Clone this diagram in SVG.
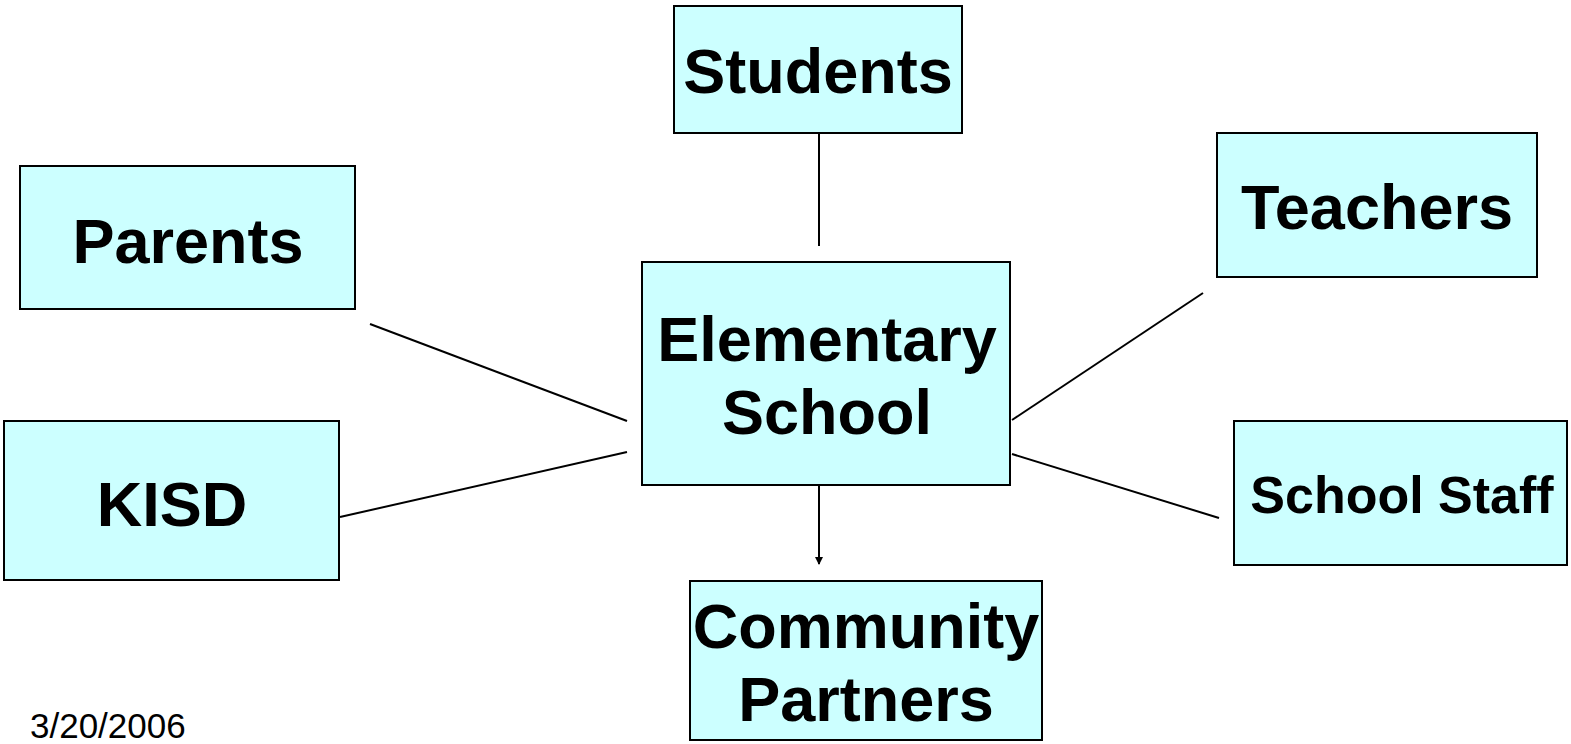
<svg xmlns="http://www.w3.org/2000/svg" width="1571" height="744" viewBox="0 0 1571 744">
<style>
.box{fill:#CCFFFF;stroke:#000;stroke-width:2}
.t{font-family:"Liberation Sans",Arial,sans-serif;font-weight:bold;fill:#000;text-anchor:middle;font-size:63px}
.c{stroke:#000;stroke-width:2;fill:none}
</style>
<defs>
<marker id="ah" markerWidth="8" markerHeight="8" refX="7" refY="4" orient="auto" markerUnits="userSpaceOnUse">
<path d="M0,0 L8,4 L0,8 Z" fill="#000"/>
</marker>
</defs>
<rect width="1571" height="744" fill="#fff"/>
<g id="connectors">
<line class="c" x1="819" y1="134" x2="819" y2="246"/>
<line class="c" x1="370" y1="324" x2="627" y2="421"/>
<line class="c" x1="340" y1="517" x2="627" y2="452"/>
<line class="c" x1="1203" y1="293" x2="1012" y2="420"/>
<line class="c" x1="1012" y1="454" x2="1219" y2="518"/>
<line class="c" x1="819" y1="486" x2="819" y2="564" marker-end="url(#ah)"/>
</g>
<g id="students">
<rect class="box" x="674" y="6" width="288" height="127"/>
<text class="t" x="818" y="93">Students</text>
</g>
<g id="parents">
<rect class="box" x="20" y="166" width="335" height="143"/>
<text class="t" x="188" y="263">Parents</text>
</g>
<g id="teachers">
<rect class="box" x="1217" y="133" width="320" height="144"/>
<text class="t" x="1377" y="229">Teachers</text>
</g>
<g id="elementary">
<rect class="box" x="642" y="262" width="368" height="223"/>
<text class="t" x="827" y="361">Elementary</text>
<text class="t" x="827" y="434">School</text>
</g>
<g id="kisd">
<rect class="box" x="4" y="421" width="335" height="159"/>
<text class="t" x="172" y="526">KISD</text>
</g>
<g id="staff">
<rect class="box" x="1234" y="421" width="333" height="144"/>
<text class="t" x="1402" y="513" style="font-size:52px">School Staff</text>
</g>
<g id="community">
<rect class="box" x="690" y="581" width="352" height="159"/>
<text class="t" x="866" y="648">Community</text>
<text class="t" x="866" y="721">Partners</text>
</g>
<text x="30" y="738" font-family="'Liberation Sans',Arial,sans-serif" font-size="35" fill="#000">3/20/2006</text>
</svg>
